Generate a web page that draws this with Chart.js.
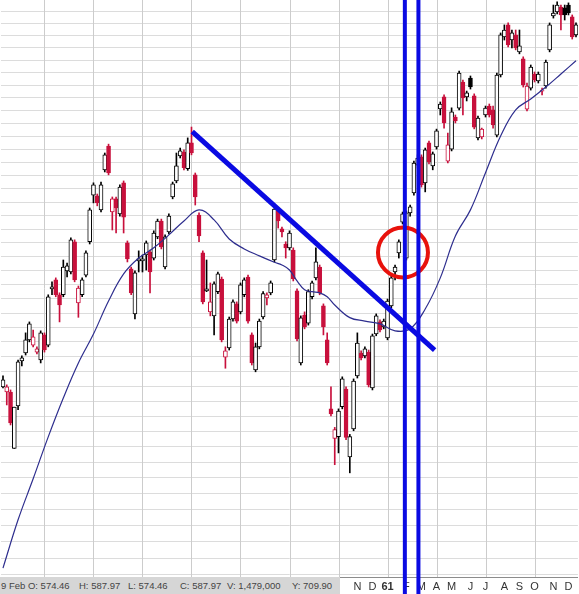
<!DOCTYPE html>
<html>
<head>
<meta charset="utf-8">
<script src="https://cdn.jsdelivr.net/npm/chart.js@4.4.1/dist/chart.umd.min.js"></script>
<style>
  html, body { margin: 0; padding: 0; background: #fff; }
  #wrap { position: relative; width: 579px; height: 594px; overflow: hidden; }
  #status {
    position: absolute; left: 0; top: 577px; width: 340px; height: 17px;
    background: #d6d6d6; color: #444;
    font: 9.5px "Liberation Sans", Arial, sans-serif;
  }
  #status span { position: absolute; top: 3px; white-space: nowrap; }
  #gap { position: absolute; left: 340px; top: 578px; width: 7px; height: 16px; background: #fff; }
</style>
</head>
<body>
<div id="wrap">
  <canvas id="chart" width="579" height="594"></canvas>
  <div id="gap"></div>
  <div id="status">
    <span style="left:1px">9 Feb O: 574.46</span>
    <span style="left:79px">H: 587.97</span>
    <span style="left:128px">L: 574.46</span>
    <span style="left:180px">C: 587.97</span>
    <span style="left:227px">V: 1,479,000</span>
    <span style="left:292px">Y: 709.90</span>
  </div>
</div>
<script>
// weekly candles, first week starts Mon 19 Jan 1959
const firstWeek = [1959, 0, 19];

const open = [
  594.7, 593.0, 593.0, 574.46, 588.4, 603.5, 606.2, 610.7, 608.9, 606.5,
  603.8, 612.4, 608.9, 628.5, 631.7, 626.4, 626.4, 634.9, 634.5, 645.4,
  623.5, 626.4, 633.4, 645.4, 662.6, 662.3, 657.1, 672.1, 681.2, 656.3,
  661.2, 655.6, 667.2, 645.0, 635.6, 619.7, 638.5, 638.5, 640.6, 641.7,
  639.5, 647.2, 653.0, 636.3, 649.0, 661.9, 667.9, 677.4, 678.9, 672.5,
  682.4, 670.2, 655.2, 641.4, 627.8, 620.4, 619.0, 627.5, 632.0, 604.8,
  607.9, 617.9, 623.2, 620.4, 626.4, 632.7, 612.4, 600.4, 608.3, 618.6,
  625.3, 627.1, 638.8, 656.7, 650.1, 644.6, 643.2, 642.4, 627.8, 602.8,
  619.3, 616.5, 625.7, 632.4, 636.3, 622.5, 610.7, 587.4, 577.7, 578.3,
  588.1, 594.0, 571.7, 580.8, 598.4, 606.2, 605.2, 606.5, 594.4, 612.7,
  616.9, 615.2, 611.4, 622.5, 634.5, 641.4, 652.6, 639.5, 656.0, 663.4,
  673.9, 677.0, 667.2, 682.4, 673.6, 680.8, 695.6, 700.3, 675.4, 680.0,
  692.4, 695.9, 706.2, 700.3, 707.8, 700.7, 684.3, 684.7, 693.2, 696.7,
  695.2, 685.4, 709.0, 724.4, 729.3, 723.1, 725.2, 718.3, 715.5, 695.5,
  703.8, 709.4, 706.6, 702.6, 704.6, 719.1, 733.0, 734.6, 736.7, 736.3,
  737.5, 732.6, 725.2
];
const high = [
  598.4, 595.4, 593.7, 587.97, 603.8, 605.2, 613.1, 616.9, 614.1, 608.3,
  613.8, 613.1, 626.4, 631.0, 632.4, 627.1, 638.8, 637.7, 646.8, 646.1,
  629.5, 632.4, 642.1, 657.8, 667.2, 663.0, 667.5, 678.5, 681.9, 661.9,
  661.9, 666.4, 667.9, 645.7, 636.3, 634.9, 642.1, 640.6, 645.7, 642.4,
  649.4, 653.7, 653.7, 647.9, 655.6, 667.5, 678.5, 680.4, 679.7, 684.3,
  688.5, 670.9, 656.0, 642.1, 638.8, 630.6, 631.0, 634.5, 632.7, 608.3,
  618.6, 624.6, 623.9, 630.6, 632.4, 633.4, 613.1, 609.6, 617.9, 627.5,
  627.1, 631.3, 658.2, 657.4, 650.8, 645.4, 649.4, 643.2, 628.5, 619.0,
  620.4, 628.2, 631.3, 643.2, 637.0, 623.2, 613.1, 594.7, 581.3, 587.4,
  598.1, 594.7, 579.0, 597.4, 613.1, 606.9, 608.3, 607.2, 612.7, 619.7,
  617.6, 617.9, 624.9, 633.1, 637.0, 646.1, 656.3, 656.7, 658.9, 675.4,
  677.8, 677.8, 680.4, 683.1, 678.9, 687.7, 698.3, 701.1, 686.2, 696.0,
  693.2, 710.6, 707.0, 702.6, 708.6, 701.5, 692.8, 688.1, 696.7, 697.5,
  696.7, 709.8, 726.0, 729.3, 730.1, 727.2, 727.2, 727.2, 716.3, 705.8,
  713.0, 710.2, 710.2, 703.8, 715.0, 730.1, 737.5, 738.8, 737.5, 737.5,
  738.4, 733.4, 730.1
];
const low = [
  594.4, 588.7, 582.1, 574.46, 587.1, 601.8, 605.5, 610.0, 608.3, 605.9,
  602.8, 606.5, 608.3, 626.4, 625.7, 616.9, 625.7, 632.7, 633.8, 631.0,
  618.5, 625.7, 632.7, 644.6, 659.7, 658.6, 656.3, 671.3, 670.2, 649.7,
  648.6, 654.8, 648.6, 638.1, 626.4, 617.9, 634.5, 634.5, 635.2, 627.1,
  638.8, 646.5, 642.8, 635.6, 648.3, 661.2, 667.2, 676.6, 672.1, 671.9,
  677.8, 658.9, 645.4, 623.2, 627.5, 619.0, 612.4, 626.8, 610.0, 601.0,
  607.2, 617.2, 616.5, 619.7, 625.7, 616.5, 602.1, 599.8, 607.6, 617.9,
  622.8, 626.4, 638.1, 650.4, 647.2, 639.5, 642.4, 631.3, 610.3, 602.1,
  614.5, 615.8, 624.9, 631.7, 626.4, 612.4, 602.1, 585.1, 569.2, 573.0,
  587.4, 577.3, 566.6, 580.2, 597.7, 603.8, 604.5, 594.7, 593.7, 612.1,
  613.4, 614.5, 610.7, 621.8, 631.7, 639.5, 651.9, 638.8, 654.8, 662.6,
  672.8, 665.6, 663.8, 674.3, 672.1, 680.0, 693.2, 688.1, 674.7, 679.3,
  690.1, 695.2, 693.2, 698.7, 703.4, 687.8, 683.5, 683.9, 692.4, 692.4,
  688.1, 684.7, 708.2, 723.1, 720.3, 719.9, 719.1, 717.5, 704.2, 694.8,
  703.0, 706.2, 705.8, 701.1, 703.8, 718.3, 732.1, 733.8, 727.2, 731.3,
  733.4, 723.5, 724.4
];
const close = [
  597.1, 594.7, 582.8, 587.97, 603.2, 604.5, 610.7, 616.2, 611.7, 607.6,
  613.1, 607.2, 625.7, 629.2, 626.4, 622.8, 636.3, 636.7, 646.1, 631.7,
  628.8, 631.7, 641.4, 657.1, 666.4, 659.7, 666.4, 677.8, 670.9, 661.2,
  657.8, 665.6, 654.4, 639.2, 627.1, 634.2, 639.2, 639.2, 645.0, 634.5,
  648.6, 653.0, 643.5, 647.2, 654.8, 666.8, 673.6, 679.3, 672.9, 682.4,
  678.5, 661.9, 647.5, 623.9, 628.5, 623.9, 630.3, 633.8, 610.7, 606.9,
  617.9, 623.9, 617.2, 629.9, 631.7, 617.2, 602.8, 608.3, 617.2, 626.8,
  626.4, 630.6, 657.4, 653.0, 649.0, 643.2, 648.6, 632.0, 611.0, 618.3,
  615.2, 627.5, 630.6, 638.1, 627.1, 615.2, 602.8, 585.7, 580.6, 586.7,
  597.4, 578.0, 578.3, 596.7, 609.6, 604.5, 607.6, 595.4, 612.1, 619.0,
  614.1, 617.2, 624.2, 632.4, 636.3, 645.4, 655.6, 656.0, 658.2, 674.7,
  676.6, 666.4, 679.7, 675.1, 678.2, 687.0, 697.5, 690.1, 681.6, 694.4,
  690.9, 709.8, 699.9, 701.9, 704.2, 688.5, 692.0, 687.7, 695.9, 693.2,
  689.3, 709.0, 725.2, 727.2, 721.1, 726.0, 719.9, 720.7, 705.0, 704.6,
  712.2, 707.0, 709.4, 703.0, 714.2, 729.3, 734.2, 737.5, 733.4, 733.4,
  734.2, 724.4, 729.3
];

// moving average, read at these weeks
const maWeek = [0, 4, 8, 12, 16, 20, 24, 28, 32, 36, 40, 44, 48, 52, 56, 60, 64, 68,
  72, 74, 76, 78, 80, 82, 84, 86, 88, 92, 96, 100, 104, 108, 112, 116, 120, 124,
  128, 132, 136, 140, 144, 148, 152];
const maValue = [537.0, 551.8, 564.7, 578.2, 591.0, 602.8, 612.7, 624.2, 633.8, 639.5,
  643.2, 647.9, 653.0, 657.1, 653.4, 646.4, 642.8, 640.3, 638.0, 637.0, 635.2, 631.3,
  628.2, 627.5, 627.1, 625.7, 622.8, 618.4, 617.2, 616.2, 613.8, 614.5, 621.4, 632.4,
  647.5, 657.1, 671.0, 685.0, 695.2, 699.5, 704.2, 709.4, 714.7];

const gridPrices = [535, 540, 545, 550, 555, 560, 565, 570, 575, 580, 585, 590, 595,
  600, 605, 610, 615, 620, 625, 630, 635, 640, 645, 650, 655, 660, 665, 670, 675,
  680, 685, 690, 695, 700, 705, 710, 715, 720, 725, 730, 735];
const yMin = 534.3;
const yMax = 739.6;

const monthLetters = ["J", "F", "M", "A", "M", "J", "J", "A", "S", "O", "N", "D"];

// drawn marks: [week, price]
const trendFrom = [50.2, 686.7];
const trendTo = [114.5, 607.2];
const verticalWeeks = [106.6, 110.2];
const circleAt = [106.1, 641.5];

function weekDate(i) {
  return new Date(Date.UTC(firstWeek[0], firstWeek[1], firstWeek[2] + i * 7));
}

function tickText(i) {
  const d = weekDate(i);
  if (d.getUTCDate() > 7) return "";
  if (d.getUTCMonth() === 0) return String(d.getUTCFullYear()).slice(2);
  return monthLetters[d.getUTCMonth()];
}

function isQuarter(i) {
  const d = weekDate(i);
  return d.getUTCDate() <= 7 && d.getUTCMonth() % 3 === 0;
}

const labels = open.map((_, i) => weekDate(i).toISOString().slice(0, 10));

const red = "#c8103c";
const blue = "#0a0ae2";
const candleColor = close.map((c, i) => {
  const prev = i === 0 ? open[0] : close[i - 1];
  return c >= prev ? "#000000" : red;
});
const bodyFill = close.map((c, i) => (c >= open[i] ? "#ffffff" : candleColor[i]));
const bodies = open.map((o, i) => [o, close[i]]);
const wicks = low.map((l, i) => [l, high[i]]);

// quarter gridlines, behind the candles
const quarterGrid = {
  id: "quarterGrid",
  beforeDatasetsDraw(chart) {
    const { ctx, scales: { x }, chartArea } = chart;
    ctx.save();
    ctx.strokeStyle = "#cccccc";
    ctx.lineWidth = 1;
    labels.forEach((_, i) => {
      if (!isQuarter(i)) return;
      const px = Math.round(x.getPixelForValue(i)) + 0.5;
      ctx.beginPath();
      ctx.moveTo(px, chartArea.top);
      ctx.lineTo(px, chartArea.bottom);
      ctx.stroke();
    });
    ctx.restore();
  },
};

const marks = {
  id: "marks",
  afterDraw(chart) {
    const { ctx, scales: { x, y } } = chart;
    ctx.save();

    ctx.strokeStyle = "#e8120c";
    ctx.lineWidth = 4;
    ctx.beginPath();
    ctx.arc(x.getPixelForValue(circleAt[0]), y.getPixelForValue(circleAt[1]), 25, 0, Math.PI * 2);
    ctx.stroke();

    ctx.strokeStyle = blue;
    ctx.lineWidth = 5;
    ctx.beginPath();
    ctx.moveTo(x.getPixelForValue(trendFrom[0]), y.getPixelForValue(trendFrom[1]));
    ctx.lineTo(x.getPixelForValue(trendTo[0]), y.getPixelForValue(trendTo[1]));
    ctx.stroke();

    ctx.lineWidth = 4;
    verticalWeeks.forEach((w) => {
      const px = x.getPixelForValue(w);
      ctx.beginPath();
      ctx.moveTo(px, 0);
      ctx.lineTo(px, chart.height);
      ctx.stroke();
    });

    // next year's label, pushed in against the right edge
    const nextYear = open.length + 2;
    const text = tickText(nextYear);
    ctx.fillStyle = "#333";
    ctx.font = "bold 11px 'Liberation Sans', Arial, sans-serif";
    ctx.textAlign = "left";
    ctx.textBaseline = "top";
    const w = ctx.measureText(text).width;
    const left = Math.min(x.getPixelForValue(nextYear) - w / 2, chart.width - 4);
    ctx.fillText(text, left, chart.chartArea.bottom + 3);

    ctx.restore();
  },
};

new Chart(document.getElementById("chart"), {
  type: "bar",
  data: {
    labels: labels,
    datasets: [
      {
        type: "line",
        data: maWeek.map((w, j) => ({ x: labels[w], y: maValue[j] })),
        borderColor: "#2e2e8e",
        borderWidth: 1.2,
        pointRadius: 0,
        tension: 0.4,
        fill: false,
      },
      {
        data: bodies,
        backgroundColor: bodyFill,
        borderColor: candleColor,
        borderWidth: 1,
        borderSkipped: false,
        barThickness: 4,
        minBarLength: 1,
        grouped: false,
      },
      {
        data: wicks,
        backgroundColor: candleColor,
        barThickness: 1,
        grouped: false,
      },
    ],
  },
  options: {
    responsive: false,
    animation: false,
    events: [],
    layout: { padding: 0 },
    plugins: { legend: { display: false }, tooltip: { enabled: false } },
    scales: {
      x: {
        offset: true,
        grid: { display: false, drawTicks: false },
        border: { display: true, color: "#8c8c8c", dash: [1, 2] },
        ticks: {
          autoSkip: false,
          maxRotation: 0,
          minRotation: 0,
          padding: 3,
          color: "#333",
          font: (c) => ({
            family: "'Liberation Sans', Arial, sans-serif",
            size: 11,
            weight: c.tick && /\d/.test(c.tick.label) ? "bold" : "normal",
          }),
          callback: (v, i) => tickText(i),
        },
        afterFit: (s) => { s.height = 17; },
      },
      y: {
        type: "logarithmic",
        min: yMin,
        max: yMax,
        afterBuildTicks: (s) => { s.ticks = gridPrices.map((v) => ({ value: v })); },
        ticks: { display: false },
        grid: { color: "#dcdcdc", drawTicks: false },
        border: { display: false },
        afterFit: (s) => { s.width = 0; },
      },
    },
  },
  plugins: [quarterGrid, marks],
});
</script>
</body>
</html>
